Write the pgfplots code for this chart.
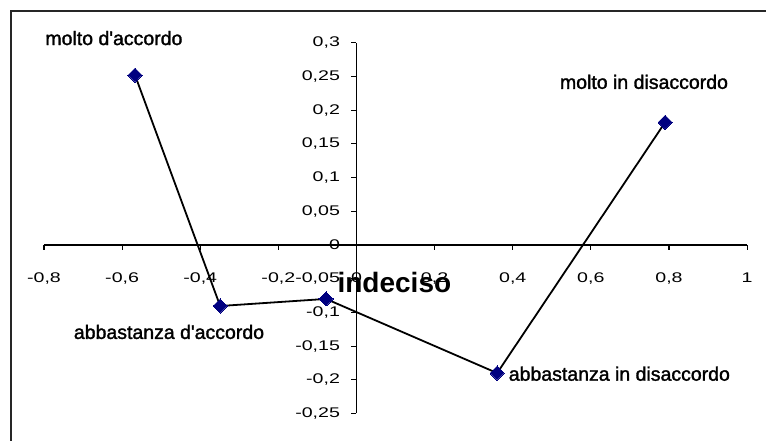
\documentclass[border=0pt]{standalone}
\usepackage{pgfplots}
\pgfplotsset{compat=1.18}
\usepackage{fontspec}
\setmainfont{Liberation Sans}
\newfontfamily\tickfont[FakeStretch=1.4]{Liberation Sans}
\newfontfamily\labfont[FakeBold=1.5]{Liberation Sans}
\newcommand{\tk}{\tickfont\fontsize{14}{14}\selectfont}
\newcommand{\lb}{\labfont\fontsize{19.5}{20}\selectfont}
\definecolor{navy}{HTML}{000080}
\begin{document}
\begin{tikzpicture}
\begin{axis}[
  at={(0pt,0pt)}, anchor=origin,
  scale only axis, width=703.1pt, height=370.7pt,
  xmin=-0.8, xmax=1, ymin=-0.25, ymax=0.3,
  axis lines=middle,
  axis line style={black, line width=1.3pt, -},
  clip=false,
  xtick={-0.8,-0.6,-0.4,-0.2,0,0.2,0.4,0.6,0.8,1},
  xticklabels={-0{,}8,-0{,}6,-0{,}4,-0{,}2,0,0{,}2,0{,}4,0{,}6,0{,}8,1},
  ytick={-0.25,-0.2,-0.15,-0.1,-0.05,0,0.05,0.1,0.15,0.2,0.25,0.3},
  yticklabels={-0{,}25,-0{,}2,-0{,}15,-0{,}1,-0{,}05,0,0{,}05,0{,}1,0{,}15,0{,}2,0{,}25,0{,}3},
  hide obscured x ticks=false, hide obscured y ticks=false,
  tick align=outside, major tick length=5pt,
  tick style={black, line width=1.1pt},
  xticklabel style={font=\tk, anchor=base, yshift=-33pt},
  yticklabel style={font=\tk, anchor=east, xshift=-8pt},
]
\addplot[black, line width=1.8pt, mark=square*, mark size=5pt,
  mark options={fill=navy, draw=navy, rotate=45, line width=0pt}]
  coordinates {(-0.567,0.252) (-0.349,-0.0905) (-0.078,-0.080) (0.36,-0.19) (0.79,0.182)};
\node[font=\lb] at (axis cs:-0.621,0.307) {molto d'accordo};
\node[font=\lb] at (axis cs:0.736,0.242) {molto in disaccordo};
\node[font=\lb] at (axis cs:-0.480,-0.129) {abbastanza d'accordo};
\node[font=\lb] at (axis cs:0.673,-0.191) {abbastanza in disaccordo};
\node[font=\bfseries\fontsize{28}{28}\selectfont] at (axis cs:0.097,-0.056) {indeciso};
\end{axis}
\pgfresetboundingbox
\useasboundingbox (-356.5pt,-196pt) rectangle (409.5pt,245pt);
\draw[line width=1.5pt, black!85] (-345.5pt,-200pt) -- (-345.5pt,234pt) -- (412pt,234pt);
\end{tikzpicture}
\end{document}
